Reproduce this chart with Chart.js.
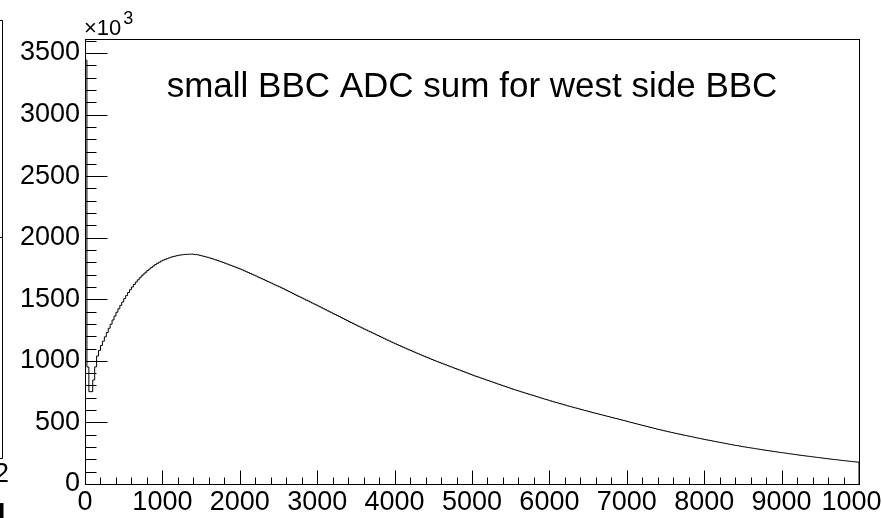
<!DOCTYPE html>
<html>
<head>
<meta charset="utf-8">
<script src="https://cdn.jsdelivr.net/npm/chart.js@4.4.1/dist/chart.umd.min.js"></script>
<style>
  html, body { margin: 0; padding: 0; background: #fff; overflow: hidden; }
  canvas { display: block; }
</style>
</head>
<body>
<canvas id="c" width="882" height="518"></canvas>
<script>
// Histogram binning (ADC units)
const ADC_MIN = 0;
const ADC_MAX = 10000;
const BIN_WIDTH = 25;

// Bin contents, in units of 10^3 entries (one value per 25-ADC bin)
const binContents = [
  3442, 950, 750, 750, 845, 951, 1040, 1085, 1125, 1160, 1195, 1230, 1265, 1298, 1332, 1364, 1395, 1423, 1451, 1478,
  1505, 1530, 1555, 1578, 1600, 1620, 1640, 1658, 1675, 1691, 1706, 1720, 1734, 1747, 1759, 1771, 1782, 1792, 1801, 1810,
  1818, 1824, 1830, 1836, 1842, 1846, 1850, 1854, 1857, 1860, 1862, 1864, 1865, 1866, 1866, 1867, 1864, 1863, 1861, 1857,
  1853, 1849, 1845, 1841, 1836, 1831, 1826, 1821, 1816, 1810, 1805, 1799, 1793, 1787, 1781, 1775, 1769, 1763, 1757, 1751,
  1745, 1738, 1731, 1724, 1717, 1710, 1703, 1696, 1689, 1681, 1674, 1667, 1660, 1652, 1645, 1638, 1631, 1623, 1616, 1609,
  1602, 1594, 1587, 1579, 1571, 1563, 1556, 1548, 1540, 1532, 1524, 1517, 1509, 1501, 1493, 1486, 1478, 1470, 1462, 1455,
  1447, 1439, 1431, 1423, 1415, 1407, 1399, 1391, 1383, 1376, 1368, 1360, 1352, 1344, 1336, 1328, 1320, 1312, 1305, 1297,
  1289, 1281, 1274, 1266, 1258, 1251, 1243, 1236, 1228, 1221, 1213, 1206, 1198, 1191, 1183, 1176, 1168, 1161, 1153, 1146,
  1139, 1132, 1125, 1118, 1111, 1104, 1097, 1090, 1084, 1077, 1070, 1063, 1057, 1050, 1043, 1037, 1030, 1024, 1017, 1011,
  1004, 998, 992, 986, 980, 974, 968, 962, 956, 950, 944, 938, 932, 926, 920, 914, 908, 902, 896, 890,
  884, 878, 873, 867, 862, 856, 851, 845, 840, 834, 829, 823, 818, 812, 807, 801, 796, 791, 785, 780,
  774, 769, 764, 759, 754, 749, 744, 739, 734, 729, 724, 720, 715, 710, 705, 700, 695, 690, 686, 681,
  676, 671, 667, 662, 658, 653, 649, 644, 640, 635, 631, 627, 622, 618, 614, 610, 605, 601, 597, 593,
  588, 584, 580, 576, 572, 568, 564, 560, 556, 552, 548, 544, 540, 536, 532, 528, 524, 520, 516, 512,
  507, 503, 499, 495, 491, 487, 483, 479, 475, 471, 467, 463, 459, 455, 451, 447, 443, 440, 436, 432,
  428, 425, 421, 418, 414, 411, 407, 404, 401, 397, 394, 391, 387, 384, 381, 377, 374, 371, 368, 364,
  361, 358, 355, 352, 349, 346, 343, 340, 337, 334, 331, 328, 325, 322, 319, 316, 313, 311, 308, 305,
  302, 300, 297, 295, 292, 290, 287, 285, 282, 280, 277, 275, 272, 270, 268, 265, 263, 261, 258, 256,
  254, 252, 250, 247, 245, 243, 241, 239, 236, 234, 232, 230, 228, 226, 224, 222, 220, 218, 216, 214,
  212, 210, 208, 206, 204, 202, 200, 198, 197, 195, 193, 191, 189, 188, 186, 184, 183, 181, 179, 178
];

// Axis ticks
const xTickValues = [0, 1000, 2000, 3000, 4000, 5000, 6000, 7000, 8000, 9000, 10000];
const yTickValues = [0, 500, 1000, 1500, 2000, 2500, 3000, 3500];
const X_MINOR_STEP = 200;
const Y_MINOR_STEP = 100;
const Y_MAX = 3614;

const titleText = 'small BBC ADC sum for west side BBC';
const FONT = '"Liberation Sans", Arial, Helvetica, sans-serif';

// Outline of the histogram as a stepped line through the bin low edges
const histPoints = [{ x: ADC_MIN, y: 0 }];
binContents.forEach((v, i) => histPoints.push({ x: ADC_MIN + i * BIN_WIDTH, y: v }));
histPoints.push({ x: ADC_MAX, y: binContents[binContents.length - 1] });
histPoints.push({ x: ADC_MAX, y: 0 });

// Frame, inward tick marks, title and exponent label
const framePlugin = {
  id: 'rootFrame',
  afterDraw(chart) {
    const ctx = chart.ctx;
    const a = chart.chartArea;
    const xs = chart.scales.x, ys = chart.scales.y;
    ctx.save();
    ctx.strokeStyle = '#000';
    ctx.lineWidth = 1;

    // frame
    const L = Math.round(a.left) + 0.5, R = Math.round(a.right) + 0.5;
    const T = Math.round(a.top) + 0.5, B = Math.round(a.bottom) + 0.5;
    ctx.strokeRect(L, T, R - L, B - T);

    // y ticks (major every 500, minor every 100)
    ctx.beginPath();
    for (let v = 0; v <= Y_MAX; v += Y_MINOR_STEP) {
      const y = Math.round(ys.getPixelForValue(v)) + 0.5;
      const len = (v % 500 === 0) ? 22 : 11;
      ctx.moveTo(L, y);
      ctx.lineTo(L + len, y);
    }
    // x ticks (major every 1000, minor every 200)
    for (let v = ADC_MIN; v <= ADC_MAX; v += X_MINOR_STEP) {
      const x = Math.round(xs.getPixelForValue(v)) + 0.5;
      const len = (v % 1000 === 0) ? 14 : 7;
      ctx.moveTo(x, B);
      ctx.lineTo(x, B - len);
    }
    ctx.stroke();

    // title inside the frame
    ctx.fillStyle = '#000';
    ctx.textAlign = 'center';
    ctx.textBaseline = 'alphabetic';
    ctx.font = '35px ' + FONT;
    ctx.fillText(titleText, (a.left + a.right) / 2, 97);

    // axis exponent
    ctx.textAlign = 'left';
    ctx.font = '22px ' + FONT;
    ctx.fillText('\u00d710', a.left - 1, 35);
    const w = ctx.measureText('\u00d710').width;
    ctx.font = '18px ' + FONT;
    ctx.fillText('3', a.left + w + 1, 24);

    // edge of the neighbouring pad
    ctx.beginPath();
    ctx.moveTo(0, 20.5); ctx.lineTo(2.5, 20.5); ctx.lineTo(2.5, 458.5); ctx.lineTo(0, 458.5);
    ctx.moveTo(0, 237.5); ctx.lineTo(2.5, 237.5);
    ctx.stroke();
    ctx.font = '27px ' + FONT;
    ctx.textAlign = 'right';
    ctx.fillText('2', 9, 482);
    ctx.fillRect(0, 503, 3.5, 15);
    ctx.restore();
  }
};

new Chart(document.getElementById('c'), {
  type: 'line',
  data: {
    datasets: [{
      data: histPoints,
      stepped: 'before',
      borderColor: '#000',
      borderWidth: 1,
      pointRadius: 0,
      fill: false,
      tension: 0
    }]
  },
  options: {
    responsive: false,
    animation: false,
    devicePixelRatio: 1,
    parsing: false,
    layout: { padding: { left: 0, right: 23, top: 39, bottom: 0 } },
    plugins: {
      legend: { display: false },
      tooltip: { enabled: false },
      title: { display: false }
    },
    scales: {
      x: {
        type: 'linear',
        min: ADC_MIN,
        max: ADC_MAX,
        grid: { display: false, drawTicks: false },
        border: { display: false },
        ticks: {
          color: '#000',
          font: { family: FONT, size: 27 },
          padding: 2,
          maxRotation: 0,
          autoSkip: false,
          callback: v => String(v)
        },
        afterBuildTicks: s => { s.ticks = xTickValues.map(v => ({ value: v })); },
        afterFit: s => { s.height = 34; s.paddingLeft = 0; s.paddingRight = 0; }
      },
      y: {
        type: 'linear',
        min: 0,
        max: Y_MAX,
        grid: { display: false, drawTicks: false },
        border: { display: false },
        ticks: {
          color: '#000',
          font: { family: FONT, size: 27 },
          padding: 5,
          autoSkip: false,
          callback: v => String(v)
        },
        afterBuildTicks: s => { s.ticks = yTickValues.map(v => ({ value: v })); },
        afterFit: s => { s.width = 85; s.paddingTop = 0; s.paddingBottom = 0; }
      }
    }
  },
  plugins: [framePlugin]
});
</script>
</body>
</html>
